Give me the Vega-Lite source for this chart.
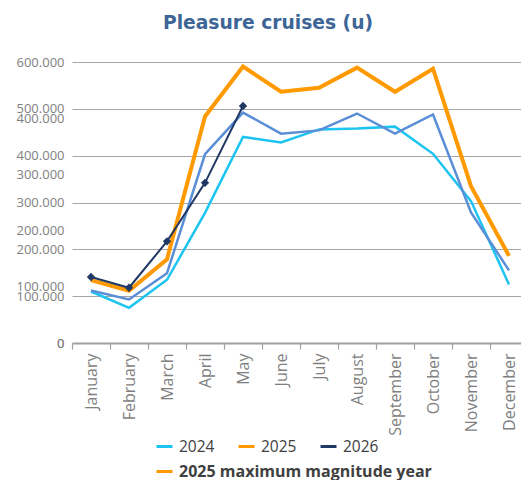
{
  "$schema": "https://vega.github.io/schema/vega-lite/v6.json",
  "width": 456,
  "height": 281,
  "autosize": {"type": "none"},
  "padding": {"left": 72, "top": 62, "right": 0, "bottom": 137},
  "background": "white",
  "title": {"text": "Pleasure cruises (u)", "font": "DejaVu Sans", "fontSize": 18.7, "fontWeight": "bold", "color": "#3d6595", "anchor": "middle", "dx": -32, "offset": 23},
  "config": {
    "view": {"stroke": null},
    "font": "Open Sans",
    "locale": {"number": {"decimal": ",", "thousands": ".", "grouping": [3], "currency": ["", "€"]}}
  },
  "data": {"values": [
    {"month": "January", "series": "2024", "value": 110000},
    {"month": "February", "series": "2024", "value": 75000},
    {"month": "March", "series": "2024", "value": 135000},
    {"month": "April", "series": "2024", "value": 278000},
    {"month": "May", "series": "2024", "value": 440000},
    {"month": "June", "series": "2024", "value": 428000},
    {"month": "July", "series": "2024", "value": 456000},
    {"month": "August", "series": "2024", "value": 458000},
    {"month": "September", "series": "2024", "value": 462000},
    {"month": "October", "series": "2024", "value": 404000},
    {"month": "November", "series": "2024", "value": 303000},
    {"month": "December", "series": "2024", "value": 125000},
    {"month": "January", "series": "2025", "value": 112000},
    {"month": "February", "series": "2025", "value": 93000},
    {"month": "March", "series": "2025", "value": 149000},
    {"month": "April", "series": "2025", "value": 403000},
    {"month": "May", "series": "2025", "value": 492000},
    {"month": "June", "series": "2025", "value": 447000},
    {"month": "July", "series": "2025", "value": 454000},
    {"month": "August", "series": "2025", "value": 490000},
    {"month": "September", "series": "2025", "value": 447000},
    {"month": "October", "series": "2025", "value": 488000},
    {"month": "November", "series": "2025", "value": 279000},
    {"month": "December", "series": "2025", "value": 155000},
    {"month": "January", "series": "2026", "value": 141000},
    {"month": "February", "series": "2026", "value": 118000},
    {"month": "March", "series": "2026", "value": 217000},
    {"month": "April", "series": "2026", "value": 342000},
    {"month": "May", "series": "2026", "value": 506000}
  ]},
  "encoding": {
    "x": {
      "field": "month", "type": "ordinal",
      "sort": ["January","February","March","April","May","June","July","August","September","October","November","December"],
      "bandPosition": 0.5,
      "scale": {"type": "band", "paddingInner": 0, "paddingOuter": 0},
      "axis": {"title": null, "labelAngle": -90, "labelFontSize": 16, "labelColor": "#7f7f7f", "tickBand": "extent", "domainColor": "#a0a0a0", "domainWidth": 1.8, "tickColor": "#a0a0a0", "tickSize": 6, "tickWidth": 1.2, "labelPadding": 4, "grid": false}
    }
  },
  "layer": [
    {
      "encoding": {
        "y": {"field": "value", "type": "quantitative",
          "scale": {"domain": [0, 600000], "nice": false, "zero": true},
          "axis": {"title": null, "orient": "left", "values": [0,100000,200000,300000,400000,500000,600000], "format": ",d", "domain": false, "ticks": false, "labelPadding": 8, "labelFontSize": 13, "labelColor": "#7f7f7f", "gridColor": "#a6a6a6", "gridWidth": 1.2}}
      },
      "layer": [
        {
          "transform": [{"filter": "datum.series === '2024'"}],
          "mark": {"type": "line", "strokeWidth": 2.5},
          "encoding": {
            "color": {"field": "series", "type": "nominal",
              "scale": {"domain": ["2024","2025","2026"], "range": ["#1cc4f2","#ff9900","#1f3864"]},
              "legend": {"orient": "none", "legendX": 83, "legendY": 375, "direction": "horizontal", "title": null, "symbolType": "stroke", "symbolStrokeWidth": 3, "symbolSize": 256, "labelFontSize": 15.5, "labelColor": "#404040", "columnPadding": 17, "labelOffset": 5}}
          }
        },
        {
          "transform": [{"filter": "datum.series === '2025'"}],
          "mark": {"type": "line", "strokeWidth": 2.5, "color": "#5a8ed6"},
          "encoding": {}
        }
      ]
    },
    {
      "transform": [{"filter": "datum.series === '2025'"}],
      "mark": {"type": "line", "strokeWidth": 4},
      "encoding": {
        "y": {"field": "value", "type": "quantitative",
          "scale": {"domain": [0, 500000], "nice": false, "zero": true},
          "axis": {"title": null, "orient": "left", "values": [0,100000,200000,300000,400000], "format": ",d", "domain": false, "ticks": false, "labelPadding": 8, "labelFontSize": 13, "labelColor": "#7f7f7f", "gridColor": "#a6a6a6", "gridWidth": 1.2}},
        "stroke": {"datum": "2025 maximum magnitude year", "type": "nominal",
          "scale": {"range": ["#ff9900"]},
          "legend": {"orient": "none", "legendX": 83, "legendY": 400, "title": null, "symbolType": "stroke", "symbolStrokeWidth": 3, "symbolSize": 256, "labelFontSize": 16, "labelFontWeight": "bold", "labelColor": "#404040", "labelLimit": 400, "labelOffset": 5}}
      }
    },
    {
      "transform": [{"filter": "datum.series === '2026'"}],
      "encoding": {
        "y": {"field": "value", "type": "quantitative",
          "scale": {"domain": [0, 600000], "nice": false, "zero": true},
          "axis": null},
        "color": {"field": "series", "type": "nominal"}
      },
      "layer": [
        {"mark": {"type": "line", "strokeWidth": 2}},
        {"mark": {"type": "point", "shape": "diamond", "filled": true, "size": 70, "opacity": 1}}
      ]
    }
  ],
  "resolve": {"scale": {"y": "independent"}}
}
